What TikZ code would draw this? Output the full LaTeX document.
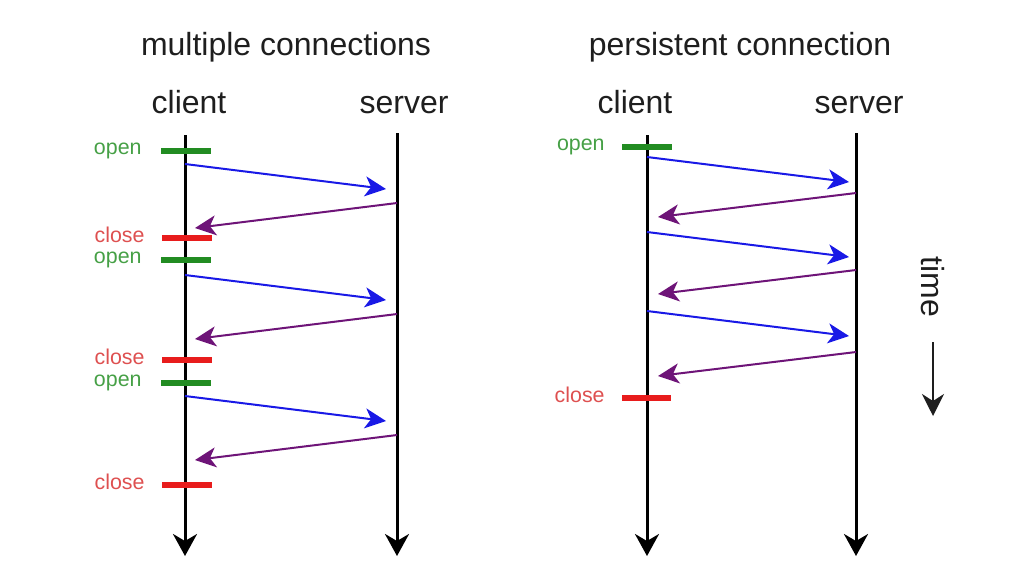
\documentclass[tikz,border=0pt]{standalone}
\usepackage{fontspec}
\setmainfont{Liberation Sans}
\usepackage{tikz}
\usetikzlibrary{arrows.meta}

\definecolor{opengreen}{RGB}{34,140,34}
\definecolor{opentext}{RGB}{70,160,70}
\definecolor{closered}{RGB}{232,28,28}
\definecolor{closetext}{RGB}{222,80,80}
\definecolor{reqblue}{RGB}{25,25,230}
\definecolor{replypurple}{RGB}{110,20,120}
\definecolor{labelgrey}{RGB}{30,30,30}

\begin{document}
\begin{tikzpicture}[x=0.5pt, y=-0.5pt,
    lifeline/.style={line width=1.5pt, -{Stealth[length=11pt, width=12pt, inset=3.5pt]}},
    request/.style={reqblue, line width=1pt, -{Stealth[length=10.5pt, width=10pt, inset=3pt]}},
    reply/.style={replypurple, line width=1pt, -{Stealth[length=10.5pt, width=10pt, inset=3pt]}},
    opentick/.style={opengreen, line width=2.6pt},
    closetick/.style={closered, line width=2.6pt},
    bigtext/.style={labelgrey, font=\fontsize{16}{19}\selectfont, inner sep=0pt},
    ticktext/.style={font=\fontsize{10.7}{13}\selectfont, inner sep=0pt, anchor=base east}]
    \useasboundingbox (0, 0) rectangle (1010, 586);

    % titles and headings
    \node[bigtext, anchor=base] (titleA) at (286, 55) {multiple connections};
    \node[bigtext, anchor=base] (titleB) at (740, 55) {persistent connection};
    \node[bigtext, anchor=base] (clientA) at (189, 113) {client};
    \node[bigtext, anchor=base] (serverA) at (404, 113) {server};
    \node[bigtext, anchor=base] (clientB) at (635, 113) {client};
    \node[bigtext, anchor=base] (serverB) at (859, 113) {server};

    % lifelines
    \coordinate (clientA top) at (185, 135);
    \coordinate (clientA end) at (185, 556);
    \coordinate (serverA top) at (397, 133);
    \coordinate (serverA end) at (397, 556);
    \coordinate (clientB top) at (647, 135);
    \coordinate (clientB end) at (647, 556);
    \coordinate (serverB top) at (856, 133);
    \coordinate (serverB end) at (856, 556);
    \draw[lifeline] (clientA top) -- (clientA end);
    \draw[lifeline] (serverA top) -- (serverA end);
    \draw[lifeline] (clientB top) -- (clientB end);
    \draw[lifeline] (serverB top) -- (serverB end);

    % multiple connections: open, request, reply, close
    \foreach \i/\o/\r/\c in {1/151/164/238, 2/260/275/360, 3/383/396/485} {
        \coordinate (openA\i) at (161, \o);
        \coordinate (openA\i') at (211, \o);
        \coordinate (closeA\i) at (162, \c);
        \coordinate (closeA\i') at (212, \c);
        \draw[opentick] (openA\i) -- (openA\i');
        \draw[closetick] (closeA\i) -- (closeA\i');
        \node[ticktext, opentext] (openlabelA\i) at (142, \o+3) {open};
        \node[ticktext, closetext] (closelabelA\i) at (145, \c+4) {close};

        \coordinate (reqA\i) at (185, \r);
        \coordinate (reqA\i') at (386, \r+25);
        \coordinate (repA\i) at (397, \r+39);
        \coordinate (repA\i') at (195, \r+64);
        \draw[request] (reqA\i) -- (reqA\i');
        \draw[reply] (repA\i) -- (repA\i');
    }

    % persistent connection: one open, three exchanges, one close
    \coordinate (openB) at (622, 147);
    \coordinate (openB') at (672, 147);
    \coordinate (closeB) at (622, 398);
    \coordinate (closeB') at (671, 398);
    \draw[opentick] (openB) -- (openB');
    \draw[closetick] (closeB) -- (closeB');
    \node[ticktext, opentext] (openlabelB) at (605, 150) {open};
    \node[ticktext, closetext] (closelabelB) at (605, 402) {close};

    \foreach \i/\r/\s in {1/157/193, 2/232/270, 3/311/352} {
        \coordinate (reqB\i) at (647, \r);
        \coordinate (reqB\i') at (849, \r+25);
        \coordinate (repB\i) at (856, \s);
        \coordinate (repB\i') at (658, \s+24);
        \draw[request] (reqB\i) -- (reqB\i');
        \draw[reply] (repB\i) -- (repB\i');
    }

    % time axis
    \node[bigtext, rotate=-90] (time) at (933, 287) {time};
    \coordinate (time top) at (933, 342);
    \coordinate (time end) at (933, 416);
    \draw[labelgrey, line width=1.1pt, -{Stealth[length=11pt, width=11pt, inset=3.5pt]}] (time top) -- (time end);
\end{tikzpicture}
\end{document}
